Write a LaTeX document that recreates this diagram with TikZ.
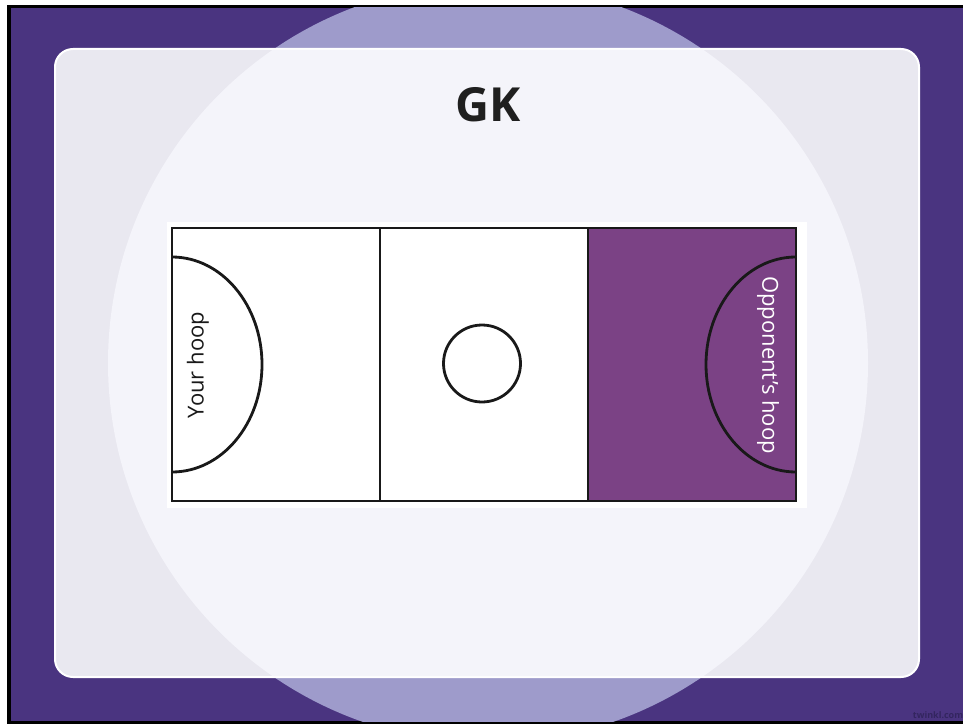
\documentclass[tikz,border=0pt]{standalone}
\usepackage{fontspec}
\setmainfont{Open Sans}
\definecolor{bgpurple}{HTML}{4A3480}
\definecolor{lav}{HTML}{9E9BCB}
\definecolor{panelc}{HTML}{E9E8F0}
\definecolor{innerc}{HTML}{F4F4FA}
\definecolor{courtpurple}{HTML}{7B4285}
\definecolor{wmc}{HTML}{33255F}
\begin{document}
\begin{tikzpicture}[x=1pt,y=-1pt,
  courtline/.style={line width=2.8pt, draw=black!90, line join=miter},
  hooptext/.style={font=\fontsize{22}{22}\selectfont, inner sep=0pt}]
\useasboundingbox (0,0) rectangle (963,725);
\fill[white] (0,0) rectangle (963,725);
\fill[black] (7,5) rectangle (963,724);
\fill[bgpurple] (11,8) rectangle (963,721);
\begin{scope}
  \clip (11,8) rectangle (963,721);
  \fill[lav] (488,363) circle[radius=380pt];
\end{scope}
\draw[white, line width=2pt, fill=panelc, rounded corners=18pt] (55,49) rectangle (919,677);
\begin{scope}
  \clip[rounded corners=17pt] (56,50) rectangle (918,676);
  \fill[innerc] (488,363) circle[radius=380pt];
\end{scope}
% court
\fill[white] (167,222) rectangle (807,508);
\fill[courtpurple] (588,228) rectangle (796,501);
\draw[courtline] (172,228) rectangle (796,501);
\draw[courtline] (380,228) -- (380,501);
\draw[courtline] (588,228) -- (588,501);
\draw[courtline] (172,257) arc[start angle=90, end angle=-90, x radius=90pt, y radius=107.5pt];
\draw[courtline] (796,257) arc[start angle=90, end angle=270, x radius=90pt, y radius=107.5pt];
\draw[courtline] (482,363.5) circle[radius=38.5pt];
% texts
\node[font=\bfseries\fontsize{47}{47}\selectfont, text=black!88, inner sep=0pt] (title) at (488,104.5) {GK};
\node[hooptext, rotate=90, text=black!90] (yourhoop) at (198,365) {Your hoop};
\node[hooptext, rotate=-90, text=white] (opphoop) at (768,365) {Opponent’s hoop};
\node[font=\bfseries\fontsize{9}{9}\selectfont, text=wmc, inner sep=0pt] (wm) at (938,715) {twinkl.com};
\end{tikzpicture}
\end{document}
